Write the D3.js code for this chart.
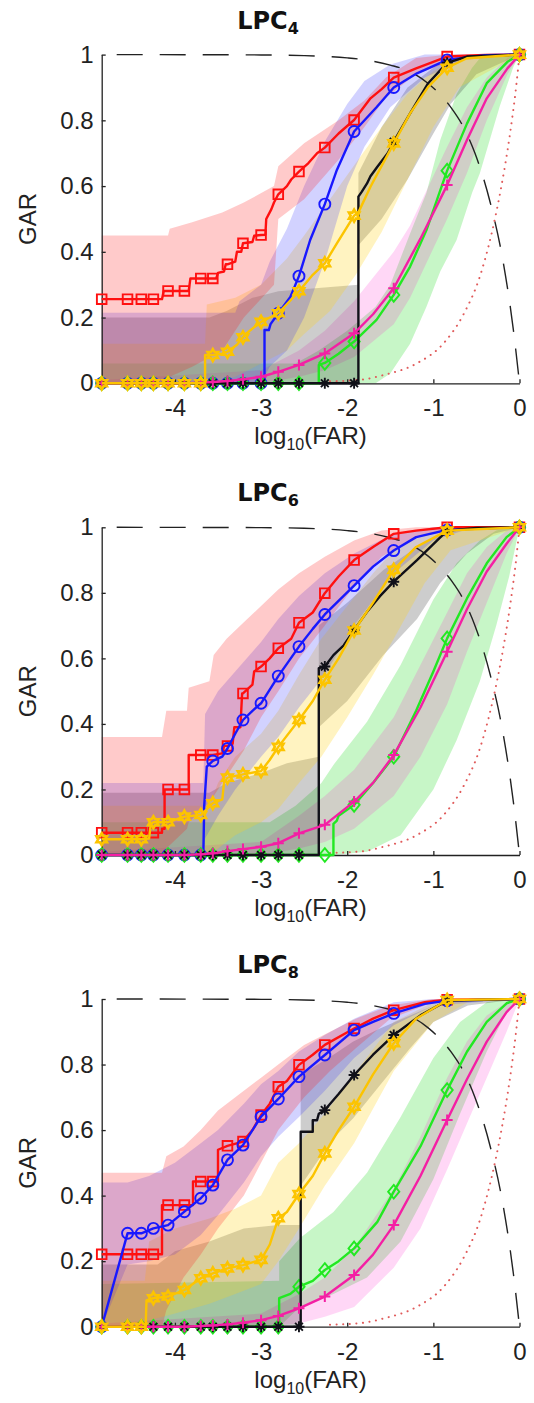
<!DOCTYPE html>
<html><head><meta charset="utf-8">
<script src="https://cdn.jsdelivr.net/npm/d3@7"></script>
<style>
html,body{margin:0;padding:0;background:#fff;}
svg{display:block;}
</style></head><body>
<svg id="chart" width="534" height="1403"></svg>
<script>
// ---------------- DATA ----------------
const xDomain = [-4.85, 0];
const yDomain = [0, 1];
const xTicks = [-4, -3, -2, -1, 0];
const xTickLabels = ["-4", "-3", "-2", "-1", "0"];
const yTicks = [0, 0.2, 0.4, 0.6, 0.8, 1];
const yTickLabels = ["0", "0.2", "0.4", "0.6", "0.8", "1"];
const titleMain = ["LPC", "LPC", "LPC"];
const titleSub = ["4", "6", "8"];
const xLabelMain = "log";
const xLabelSub = "10";
const xLabelTail = "(FAR)";
const yLabel = "GAR";

const seriesKeys = ["red", "blue", "yellow", "black", "green", "magenta"];
// marker positions (log10 FAR) shared by all curves
const markerX = [-4.85,-4.55,-4.39,-4.25,-4.08,-3.89,-3.70,-3.56,-3.39,-3.21,-3.0,-2.8,-2.56,-2.26,-1.92,-1.46,-0.84,0];

// reference curves
const refDashed = [[-4.85,1],[-3.0,0.999],[-2.5,0.997],[-2.0,0.99],[-1.77,0.983],[-1.5,0.968],[-1.27,0.948],[-1.06,0.912],[-0.79,0.837],[-0.65,0.779],[-0.52,0.702],[-0.34,0.55],[-0.19,0.37],[-0.07,0.16],[0,0]];
const refDotted = [[-2.2,0.006],[-1.81,0.012],[-1.58,0.025],[-1.19,0.061],[-0.88,0.122],[-0.65,0.21],[-0.46,0.325],[-0.32,0.46],[-0.21,0.6],[-0.11,0.76],[-0.04,0.9],[0,1]];

// ----- Panel 1 (LPC4) -----
const p1RedLine = [[-4.85,0.256],[-4.55,0.256],[-4.39,0.256],[-4.25,0.256],[-4.15,0.256],[-4.13,0.281],[-4.08,0.281],[-3.89,0.281],[-3.84,0.281],[-3.82,0.319],[-3.70,0.319],[-3.56,0.319],[-3.52,0.319],[-3.50,0.336],[-3.43,0.34],[-3.41,0.362],[-3.39,0.362],[-3.30,0.37],[-3.28,0.40],[-3.23,0.40],[-3.21,0.426],[-3.1,0.43],[-3.08,0.449],[-3.0,0.451],[-2.95,0.452],[-2.94,0.5],[-2.88,0.53],[-2.85,0.55],[-2.80,0.575],[-2.7,0.6],[-2.65,0.62],[-2.56,0.644],[-2.45,0.67],[-2.35,0.7],[-2.26,0.717],[-2.1,0.76],[-1.92,0.801],[-1.73,0.867],[-1.6,0.895],[-1.46,0.93],[-1.2,0.958],[-0.84,0.994],[-0.4,0.999],[0,1]];
const p1RedMarks = [0.256,0.256,0.256,0.256,0.281,0.281,0.319,0.319,0.362,0.426,0.451,0.575,0.644,0.717,0.801,0.93,0.994,1];
const p1BlueLine = [[-4.85,0],[-2.96,0],[-2.96,0.162],[-2.91,0.162],[-2.89,0.18],[-2.80,0.213],[-2.66,0.263],[-2.56,0.326],[-2.43,0.436],[-2.26,0.545],[-2.12,0.649],[-1.92,0.766],[-1.66,0.84],[-1.46,0.90],[-1.19,0.943],[-0.84,0.984],[-0.4,0.998],[0,1]];
const p1BlueMarks = [0,0,0,0,0,0,0,0,0,0,0,0.213,0.326,0.545,0.766,0.90,0.984,1];
const p1YellowLine = [[-4.85,0],[-3.65,0],[-3.65,0.086],[-3.56,0.086],[-3.45,0.09],[-3.39,0.096],[-3.28,0.117],[-3.21,0.14],[-3.17,0.152],[-3.0,0.187],[-2.8,0.213],[-2.56,0.28],[-2.4,0.33],[-2.26,0.365],[-2.12,0.426],[-1.92,0.51],[-1.87,0.52],[-1.73,0.598],[-1.46,0.73],[-1.27,0.821],[-1.06,0.902],[-0.84,0.96],[-0.61,0.989],[0,1]];
const p1YellowMarks = [0,0,0,0,0,0,0,0.086,0.096,0.14,0.187,0.213,0.28,0.365,0.51,0.73,0.96,1];
const p1BlackLine = [[-4.85,0],[-1.87,0],[-1.87,0.568],[-1.83,0.583],[-1.77,0.608],[-1.73,0.63],[-1.65,0.659],[-1.53,0.70],[-1.46,0.735],[-1.27,0.821],[-1.06,0.913],[-0.84,0.975],[-0.61,0.994],[0,1]];
const p1BlackMarks = [0,0,0,0,0,0,0,0,0,0,0,0,0,0,0,0.735,0.975,1];
const p1GreenLine = [[-4.85,0],[-2.33,0],[-2.33,0.056],[-2.26,0.062],[-2.1,0.09],[-1.92,0.127],[-1.66,0.193],[-1.46,0.269],[-1.27,0.355],[-1.08,0.466],[-0.84,0.647],[-0.61,0.79],[-0.38,0.913],[-0.14,0.978],[0,1]];
const p1GreenMarks = [0,0,0,0,0,0,0,0,0,0,0,0,0,0.062,0.127,0.269,0.647,1];
const p1MagentaLine = [[-4.85,0],[-3.89,0],[-3.70,0.002],[-3.56,0.004],[-3.39,0.007],[-3.21,0.012],[-3.0,0.02],[-2.8,0.035],[-2.56,0.056],[-2.26,0.091],[-1.92,0.152],[-1.7,0.21],[-1.46,0.289],[-1.15,0.44],[-0.84,0.603],[-0.61,0.74],[-0.38,0.867],[-0.14,0.958],[0,1]];
const p1MagentaMarks = [0,0,0,0,0,0,0.002,0.004,0.007,0.012,0.02,0.035,0.056,0.091,0.152,0.289,0.603,1];
// bands: [x, lower, upper]
const p1RedBand = [[-4.85,0,0.45],[-4.08,0,0.45],[-4.06,0.02,0.47],[-3.8,0.05,0.49],[-3.45,0.1,0.52],[-3.2,0.2,0.55],[-2.85,0.3,0.6],[-2.8,0.5,0.66],[-2.5,0.56,0.73],[-2.1,0.68,0.8],[-1.8,0.78,0.86],[-1.55,0.87,0.93],[-1.2,0.94,0.99],[-0.8,0.98,1],[0,1,1]];
const p1BlueBand = [[-4.85,0,0.215],[-3.3,0,0.215],[-3.25,0,0.25],[-3.0,0,0.3],[-2.9,0.05,0.37],[-2.7,0.1,0.47],[-2.5,0.2,0.6],[-2.25,0.38,0.74],[-2.0,0.6,0.85],[-1.8,0.72,0.92],[-1.5,0.84,0.97],[-1.1,0.93,1],[-0.6,0.99,1],[0,1,1]];
const p1YellowBand = [[-4.85,0,0.12],[-3.65,0,0.12],[-3.63,0,0.24],[-3.3,0.02,0.26],[-3.0,0.06,0.3],[-2.7,0.1,0.38],[-2.5,0.15,0.45],[-2.2,0.22,0.56],[-1.9,0.33,0.67],[-1.6,0.46,0.78],[-1.3,0.62,0.88],[-1.0,0.78,0.95],[-0.7,0.9,0.99],[0,1,1]];
const p1BlackBand = [[-4.85,0,0.2],[-3.6,0,0.2],[-3.4,0,0.22],[-3.1,0,0.26],[-2.8,0,0.28],[-1.87,0,0.3],[-1.87,0.42,0.64],[-1.6,0.5,0.78],[-1.3,0.62,0.9],[-1.0,0.76,0.96],[-0.8,0.85,0.99],[-0.5,0.94,1],[0,1,1]];
const p1GreenBand = [[-4.85,0,0.06],[-2.6,0,0.06],[-2.33,0,0.1],[-2.0,0,0.16],[-1.67,0,0.233],[-1.5,0.03,0.3],[-1.27,0.12,0.456],[-1.08,0.233,0.58],[-0.92,0.34,0.74],[-0.73,0.436,0.88],[-0.55,0.58,0.96],[-0.46,0.639,0.989],[-0.23,0.842,1],[-0.07,0.963,1],[0,1,1]];
const p1MagentaBand = [[-4.85,0,0.01],[-3.0,0,0.04],[-2.56,0.02,0.1],[-2.26,0.04,0.16],[-1.92,0.08,0.25],[-1.46,0.18,0.4],[-1.27,0.26,0.48],[-0.84,0.5,0.72],[-0.61,0.64,0.84],[-0.38,0.8,0.93],[-0.14,0.94,0.99],[0,1,1]];

// ----- Panel 2 (LPC6) -----
const p2RedLine = [[-4.85,0.068],[-4.55,0.068],[-4.39,0.068],[-4.25,0.068],[-4.15,0.068],[-4.15,0.08],[-4.12,0.08],[-4.12,0.2],[-4.08,0.2],[-3.89,0.2],[-3.84,0.2],[-3.84,0.305],[-3.70,0.305],[-3.56,0.305],[-3.45,0.31],[-3.43,0.333],[-3.39,0.333],[-3.33,0.34],[-3.31,0.39],[-3.24,0.39],[-3.22,0.493],[-3.21,0.493],[-3.1,0.52],[-3.08,0.56],[-3.0,0.575],[-2.9,0.6],[-2.8,0.631],[-2.65,0.66],[-2.56,0.709],[-2.4,0.74],[-2.26,0.799],[-2.1,0.85],[-1.92,0.90],[-1.7,0.94],[-1.46,0.98],[-1.2,0.99],[-0.84,1.0],[0,1.0]];
const p2RedMarks = [0.068,0.068,0.068,0.068,0.2,0.2,0.305,0.305,0.333,0.493,0.575,0.631,0.709,0.799,0.90,0.98,1.0,1.0];
const p2BlueLine = [[-4.85,0],[-3.67,0],[-3.66,0.15],[-3.63,0.27],[-3.56,0.287],[-3.45,0.30],[-3.39,0.325],[-3.3,0.37],[-3.21,0.412],[-3.1,0.44],[-3.0,0.463],[-2.8,0.546],[-2.56,0.636],[-2.4,0.69],[-2.26,0.734],[-1.92,0.822],[-1.7,0.88],[-1.46,0.929],[-1.2,0.97],[-0.84,0.992],[0,1]];
const p2BlueMarks = [0,0,0,0,0,0,0,0.287,0.325,0.412,0.463,0.546,0.636,0.734,0.822,0.929,0.992,1];
const p2YellowLine = [[-4.85,0.048],[-4.39,0.048],[-4.3,0.05],[-4.28,0.095],[-4.25,0.10],[-4.08,0.10],[-3.89,0.117],[-3.70,0.122],[-3.56,0.158],[-3.45,0.17],[-3.43,0.22],[-3.39,0.236],[-3.21,0.246],[-3.0,0.256],[-2.9,0.29],[-2.8,0.33],[-2.56,0.412],[-2.4,0.47],[-2.26,0.535],[-2.1,0.6],[-1.92,0.685],[-1.7,0.77],[-1.46,0.87],[-1.2,0.94],[-0.84,0.99],[0,1]];
const p2YellowMarks = [0.048,0.048,0.048,0.10,0.10,0.117,0.122,0.158,0.236,0.246,0.256,0.33,0.412,0.535,0.685,0.87,0.99,1];
const p2BlackLine = [[-4.85,0],[-2.33,0],[-2.33,0.57],[-2.26,0.575],[-2.16,0.61],[-2.04,0.64],[-1.92,0.687],[-1.77,0.742],[-1.62,0.79],[-1.46,0.834],[-1.19,0.90],[-0.84,0.99],[-0.5,0.998],[0,1]];
const p2BlackMarks = [0,0,0,0,0,0,0,0,0,0,0,0,0,0.575,0.687,0.834,0.99,1];
const p2GreenLine = [[-4.85,0],[-2.16,0],[-2.16,0.095],[-2.12,0.105],[-2.1,0.12],[-1.92,0.153],[-1.7,0.22],[-1.46,0.30],[-1.2,0.44],[-1.0,0.56],[-0.84,0.661],[-0.61,0.783],[-0.38,0.89],[-0.15,0.97],[0,1]];
const p2GreenMarks = [0,0,0,0,0,0,0,0,0,0,0,0,0,0,0.153,0.30,0.661,1];
const p2MagentaLine = [[-4.85,0],[-3.89,0],[-3.70,0.002],[-3.56,0.005],[-3.39,0.012],[-3.21,0.018],[-3.0,0.025],[-2.8,0.036],[-2.56,0.066],[-2.26,0.092],[-1.92,0.163],[-1.7,0.22],[-1.46,0.305],[-1.15,0.45],[-0.84,0.62],[-0.61,0.75],[-0.38,0.865],[-0.15,0.95],[0,1]];
const p2MagentaMarks = [0,0,0,0,0,0,0.002,0.005,0.012,0.018,0.025,0.036,0.066,0.092,0.163,0.305,0.62,1];
const p2RedBand = [[-4.85,0,0.36],[-4.15,0,0.36],[-4.1,0.02,0.44],[-3.86,0.08,0.44],[-3.84,0.1,0.51],[-3.6,0.16,0.53],[-3.55,0.18,0.61],[-3.4,0.24,0.66],[-3.2,0.32,0.71],[-3.0,0.42,0.76],[-2.8,0.5,0.81],[-2.56,0.6,0.86],[-2.26,0.7,0.91],[-1.92,0.82,0.96],[-1.6,0.91,0.99],[-1.2,0.97,1],[-0.8,0.99,1],[0,1,1]];
const p2BlueBand = [[-4.85,0,0.22],[-3.67,0,0.22],[-3.65,0.05,0.43],[-3.5,0.12,0.5],[-3.3,0.2,0.56],[-3.0,0.3,0.65],[-2.8,0.36,0.72],[-2.56,0.45,0.79],[-2.26,0.55,0.86],[-1.92,0.7,0.92],[-1.46,0.86,0.98],[-1.0,0.96,1],[-0.6,0.995,1],[0,1,1]];
const p2YellowBand = [[-4.85,0,0.15],[-3.6,0,0.15],[-3.5,0.02,0.22],[-3.3,0.06,0.3],[-3.0,0.1,0.37],[-2.8,0.14,0.44],[-2.56,0.22,0.55],[-2.3,0.3,0.66],[-2.0,0.42,0.76],[-1.7,0.55,0.86],[-1.46,0.66,0.93],[-1.1,0.83,0.98],[-0.8,0.93,1],[0,1,1]];
const p2BlackBand = [[-4.85,0,0.19],[-3.6,0,0.19],[-3.4,0,0.22],[-3.0,0,0.25],[-2.7,0,0.28],[-2.33,0,0.3],[-2.33,0.39,0.7],[-2.0,0.47,0.77],[-1.58,0.61,0.87],[-1.19,0.72,0.94],[-0.92,0.83,0.98],[-0.61,0.92,1],[-0.3,0.98,1],[0,1,1]];
const p2GreenBand = [[-4.85,0,0.1],[-2.9,0,0.1],[-2.6,0,0.15],[-2.3,0,0.22],[-2.16,0,0.275],[-1.77,0.01,0.407],[-1.38,0.06,0.58],[-1.0,0.2,0.78],[-0.73,0.35,0.89],[-0.46,0.53,0.96],[-0.27,0.7,0.99],[-0.12,0.85,1],[0,1,1]];
const p2MagentaBand = [[-4.85,0,0.01],[-3.0,0,0.04],[-2.56,0.02,0.12],[-2.26,0.04,0.18],[-1.92,0.08,0.26],[-1.46,0.18,0.42],[-1.15,0.3,0.58],[-0.84,0.46,0.74],[-0.61,0.62,0.86],[-0.38,0.77,0.94],[-0.15,0.92,0.99],[0,1,1]];

// ----- Panel 3 (LPC8) -----
const p3RedLine = [[-4.85,0.221],[-4.25,0.221],[-4.15,0.221],[-4.15,0.371],[-4.08,0.371],[-3.89,0.371],[-3.79,0.371],[-3.79,0.443],[-3.70,0.443],[-3.56,0.443],[-3.5,0.443],[-3.5,0.54],[-3.39,0.552],[-3.21,0.565],[-3.1,0.6],[-3.0,0.646],[-2.9,0.68],[-2.8,0.732],[-2.7,0.75],[-2.56,0.799],[-2.4,0.83],[-2.26,0.86],[-1.92,0.91],[-1.7,0.94],[-1.46,0.966],[-1.1,0.99],[-0.84,0.998],[0,1]];
const p3RedMarks = [0.221,0.221,0.221,0.221,0.371,0.371,0.443,0.443,0.552,0.565,0.646,0.732,0.799,0.86,0.91,0.966,0.998,1];
const p3BlueLine = [[-4.85,0],[-4.55,0.285],[-4.39,0.285],[-4.25,0.30],[-4.08,0.31],[-3.89,0.351],[-3.70,0.392],[-3.56,0.432],[-3.39,0.509],[-3.21,0.554],[-3.0,0.641],[-2.8,0.695],[-2.56,0.763],[-2.26,0.829],[-1.92,0.905],[-1.7,0.93],[-1.46,0.956],[-1.1,0.985],[-0.84,0.995],[0,1]];
const p3BlueMarks = [0,0.285,0.285,0.30,0.31,0.351,0.392,0.432,0.509,0.554,0.641,0.695,0.763,0.829,0.905,0.956,0.995,1];
const p3YellowLine = [[-4.85,0],[-4.34,0],[-4.33,0.08],[-4.25,0.087],[-4.08,0.092],[-3.89,0.112],[-3.70,0.148],[-3.56,0.163],[-3.39,0.178],[-3.21,0.188],[-3.0,0.204],[-2.9,0.25],[-2.8,0.331],[-2.7,0.35],[-2.56,0.405],[-2.4,0.46],[-2.26,0.529],[-2.1,0.6],[-1.92,0.671],[-1.7,0.77],[-1.46,0.865],[-1.2,0.94],[-0.84,0.997],[0,1]];
const p3YellowMarks = [0,0,0,0.087,0.092,0.112,0.148,0.163,0.178,0.188,0.204,0.331,0.405,0.529,0.671,0.865,0.997,1];
const p3BlackLine = [[-4.85,0],[-2.54,0],[-2.54,0.595],[-2.4,0.595],[-2.4,0.63],[-2.35,0.63],[-2.33,0.65],[-2.26,0.661],[-2.1,0.71],[-1.92,0.768],[-1.7,0.83],[-1.46,0.89],[-1.15,0.95],[-0.84,0.995],[0,1]];
const p3BlackMarks = [0,0,0,0,0,0,0,0,0,0,0,0,0,0.661,0.768,0.89,0.995,1];
const p3GreenLine = [[-4.85,0],[-2.79,0],[-2.79,0.087],[-2.66,0.1],[-2.56,0.122],[-2.4,0.14],[-2.26,0.173],[-2.1,0.2],[-1.92,0.239],[-1.65,0.32],[-1.46,0.412],[-1.15,0.55],[-0.84,0.722],[-0.61,0.839],[-0.38,0.93],[-0.15,0.987],[0,1]];
const p3GreenMarks = [0,0,0,0,0,0,0,0,0,0,0,0,0.122,0.173,0.239,0.412,0.722,1];
const p3MagentaLine = [[-4.85,0],[-3.89,0],[-3.70,0.002],[-3.56,0.004],[-3.39,0.007],[-3.21,0.012],[-3.0,0.02],[-2.8,0.033],[-2.56,0.056],[-2.26,0.092],[-1.92,0.158],[-1.7,0.22],[-1.46,0.31],[-1.15,0.46],[-0.84,0.631],[-0.61,0.755],[-0.38,0.87],[-0.15,0.96],[0,1]];
const p3MagentaMarks = [0,0,0,0,0,0,0.002,0.004,0.007,0.012,0.02,0.033,0.056,0.092,0.158,0.31,0.631,1];
const p3RedBand = [[-4.85,0,0.47],[-4.15,0,0.47],[-4.1,0.05,0.52],[-3.9,0.15,0.55],[-3.7,0.22,0.6],[-3.5,0.3,0.66],[-3.2,0.4,0.72],[-3.0,0.5,0.76],[-2.8,0.6,0.8],[-2.5,0.7,0.86],[-2.2,0.78,0.9],[-1.9,0.85,0.94],[-1.5,0.94,0.98],[-1.0,0.99,1],[0,1,1]];
const p3BlueBand = [[-4.85,0,0.44],[-4.55,0.19,0.44],[-4.3,0.2,0.46],[-4.0,0.22,0.5],[-3.7,0.28,0.56],[-3.5,0.34,0.6],[-3.2,0.44,0.68],[-3.0,0.52,0.74],[-2.8,0.58,0.78],[-2.56,0.64,0.84],[-2.26,0.72,0.89],[-1.92,0.82,0.94],[-1.46,0.92,0.99],[-1.0,0.98,1],[0,1,1]];
const p3YellowBand = [[-4.85,0,0.14],[-4.35,0,0.14],[-4.3,0.02,0.26],[-4.0,0.04,0.3],[-3.6,0.07,0.33],[-3.3,0.1,0.36],[-3.0,0.13,0.4],[-2.8,0.2,0.5],[-2.56,0.3,0.56],[-2.26,0.43,0.65],[-1.92,0.56,0.77],[-1.46,0.78,0.93],[-1.0,0.93,0.99],[-0.6,0.99,1],[0,1,1]];
const p3BlackBand = [[-4.85,0,0.19],[-4.2,0,0.19],[-4.0,0,0.23],[-3.6,0,0.26],[-3.2,0,0.3],[-2.8,0,0.31],[-2.54,0,0.31],[-2.54,0.43,0.768],[-2.16,0.575,0.83],[-1.93,0.636,0.87],[-1.62,0.737,0.91],[-1.27,0.85,0.95],[-1.0,0.93,0.98],[-0.6,0.98,1],[0,1,1]];
const p3GreenBand = [[-4.85,0,0.13],[-2.79,0,0.14],[-2.79,0,0.2],[-2.55,0.06,0.27],[-2.16,0.1,0.35],[-1.77,0.15,0.47],[-1.38,0.26,0.64],[-1.0,0.45,0.82],[-0.69,0.65,0.93],[-0.38,0.84,0.99],[-0.15,0.96,1],[0,1,1]];
const p3MagentaBand = [[-4.85,0,0.01],[-3.0,0,0.04],[-2.56,0.01,0.1],[-2.26,0.03,0.15],[-1.92,0.06,0.24],[-1.46,0.18,0.42],[-1.15,0.3,0.58],[-0.84,0.48,0.76],[-0.61,0.62,0.87],[-0.38,0.76,0.95],[-0.15,0.9,0.99],[0,1,1]];

// ---------------- assembled tables ----------------
const panels = [
  { lines: {red:p1RedLine, blue:p1BlueLine, yellow:p1YellowLine, black:p1BlackLine, green:p1GreenLine, magenta:p1MagentaLine},
    marks: {red:p1RedMarks, blue:p1BlueMarks, yellow:p1YellowMarks, black:p1BlackMarks, green:p1GreenMarks, magenta:p1MagentaMarks},
    bands: {red:p1RedBand, blue:p1BlueBand, yellow:p1YellowBand, black:p1BlackBand, green:p1GreenBand, magenta:p1MagentaBand} },
  { lines: {red:p2RedLine, blue:p2BlueLine, yellow:p2YellowLine, black:p2BlackLine, green:p2GreenLine, magenta:p2MagentaLine},
    marks: {red:p2RedMarks, blue:p2BlueMarks, yellow:p2YellowMarks, black:p2BlackMarks, green:p2GreenMarks, magenta:p2MagentaMarks},
    bands: {red:p2RedBand, blue:p2BlueBand, yellow:p2YellowBand, black:p2BlackBand, green:p2GreenBand, magenta:p2MagentaBand} },
  { lines: {red:p3RedLine, blue:p3BlueLine, yellow:p3YellowLine, black:p3BlackLine, green:p3GreenLine, magenta:p3MagentaLine},
    marks: {red:p3RedMarks, blue:p3BlueMarks, yellow:p3YellowMarks, black:p3BlackMarks, green:p3GreenMarks, magenta:p3MagentaMarks},
    bands: {red:p3RedBand, blue:p3BlueBand, yellow:p3YellowBand, black:p3BlackBand, green:p3GreenBand, magenta:p3MagentaBand} }
];

// ---------------- STYLE / LAYOUT ----------------
const W = 534, H = 1403;
const plotLeft = 101.7, plotRight = 519.5;
const plotTops = [54.6, 527.3, 999];
const plotBottoms = [383.3, 855, 1326.7];
const lineColor = {red:"#ff1010", blue:"#1818ff", yellow:"#fcc400", black:"#101018", green:"#22e822", magenta:"#f41fa4"};
const bandColor = {red:"#ff1a1a", blue:"#3030ff", yellow:"#ffd21a", black:"#303030", green:"#00d400", magenta:"#ff10c8"};
const bandOpacity = {red:0.23, blue:0.22, yellow:0.27, black:0.24, green:0.22, magenta:0.17};
const bandOrder = ["green","magenta","black","yellow","blue","red"];
const drawOrder = ["red","blue","green","black","magenta","yellow"];
const fontFam = "'Liberation Sans', Arial, Helvetica, sans-serif";

function hexagram(R) {
  const r = R / Math.sqrt(3);
  const pts = d3.range(12).map(i => {
    const a = -Math.PI/2 + i*Math.PI/6;
    const rr = i % 2 === 0 ? R : r;
    return [rr*Math.cos(a), rr*Math.sin(a)];
  });
  return "M" + pts.map(p => p[0].toFixed(2)+","+p[1].toFixed(2)).join("L") + "Z";
}
const markerPath = {
  red: "M-4.8,-4.8H4.8V4.8H-4.8Z",
  blue: d3.symbol(d3.symbolCircle, 95)(),
  yellow: hexagram(6),
  black: "M-5.5,0H5.5M0,-5.5V5.5M-3.9,-3.9L3.9,3.9M-3.9,3.9L3.9,-3.9",
  green: "M0,-6.8L5.6,0L0,6.8L-5.6,0Z",
  magenta: "M-5.5,0H5.5M0,-5.5V5.5"
};
const markerWidth = {red:1.9, blue:1.9, yellow:2.6, black:1.9, green:1.9, magenta:2};

const svg = d3.select("#chart");
svg.append("rect").attr("width", W).attr("height", H).attr("fill", "#fff");

panels.forEach((p, pi) => {
  const x = d3.scaleLinear().domain(xDomain).range([plotLeft, plotRight]);
  const y = d3.scaleLinear().domain(yDomain).range([plotBottoms[pi], plotTops[pi]]);
  const g = svg.append("g");

  // bands
  const area = d3.area().x(d => x(d[0])).y0(d => y(d[1])).y1(d => y(d[2]));
  bandOrder.forEach(k => {
    g.append("path").datum(p.bands[k]).attr("d", area)
      .attr("fill", bandColor[k]).attr("fill-opacity", bandOpacity[k]).attr("stroke", "none");
  });

  // axes
  const ax = g.append("g").attr("transform", `translate(0,${plotBottoms[pi]})`)
    .call(d3.axisBottom(x).tickValues(xTicks).tickFormat((d,i) => xTickLabels[i]).tickSizeInner(-4).tickSizeOuter(0).tickPadding(16));
  const ay = g.append("g").attr("transform", `translate(${plotLeft},0)`)
    .call(d3.axisLeft(y).tickValues(yTicks).tickFormat((d,i) => yTickLabels[i]).tickSizeInner(-4).tickSizeOuter(0).tickPadding(8));
  [ax, ay].forEach(a => {
    a.select(".domain").attr("stroke", "#222").attr("stroke-width", 1.3);
    a.selectAll(".tick line").attr("stroke", "#222").attr("stroke-width", 1.3);
    a.selectAll(".tick text").attr("font-family", fontFam).attr("font-size", 24).attr("fill", "#222");
  });

  // reference curves
  g.append("path").datum(refDashed).attr("d", d3.line().x(d => x(d[0])).y(d => y(d[1])).curve(d3.curveMonotoneX))
    .attr("fill", "none").attr("stroke", "#222").attr("stroke-width", 1.4)
    .attr("stroke-dasharray", "26,17").attr("stroke-dashoffset", 28);
  g.append("path").datum(refDotted).attr("d", d3.line().x(d => x(d[0])).y(d => y(d[1])).curve(d3.curveMonotoneX))
    .attr("fill", "none").attr("stroke", "#e05a5a").attr("stroke-width", 2)
    .attr("stroke-linecap", "round").attr("stroke-dasharray", "0.1,6.5");

  // series lines + markers
  const straight = d3.line().x(d => x(d[0])).y(d => y(d[1]));
  drawOrder.forEach(k => {
    g.append("path").datum(p.lines[k]).attr("d", straight)
      .attr("fill", "none").attr("stroke", lineColor[k]).attr("stroke-width", 2.4)
      .attr("stroke-linejoin", "round");
    g.append("g").selectAll("path").data(p.marks[k]).join("path")
      .attr("transform", (d,i) => `translate(${x(markerX[i])},${y(d)})`)
      .attr("d", markerPath[k]).attr("fill", "none")
      .attr("stroke", lineColor[k]).attr("stroke-width", markerWidth[k]);
  });

  // labels
  const t = svg.append("text").attr("x", 268).attr("y", plotTops[pi] - 26)
    .attr("text-anchor", "middle").attr("font-family", "'DejaVu Sans', sans-serif")
    .attr("font-weight", "bold").attr("font-size", 24).attr("fill", "#111");
  t.append("tspan").text(titleMain[pi]);
  t.append("tspan").attr("font-size", 16).attr("dy", 5).text(titleSub[pi]);

  const xl = svg.append("text").attr("x", (plotLeft + plotRight) / 2).attr("y", plotBottoms[pi] + 61)
    .attr("text-anchor", "middle").attr("font-family", fontFam).attr("font-size", 24).attr("fill", "#222");
  xl.append("tspan").text(xLabelMain);
  xl.append("tspan").attr("font-size", 16).attr("dy", 6).text(xLabelSub);
  xl.append("tspan").attr("dy", -6).text(xLabelTail);

  svg.append("text")
    .attr("transform", `translate(36,${(plotTops[pi] + plotBottoms[pi]) / 2}) rotate(-90)`)
    .attr("text-anchor", "middle").attr("font-family", fontFam).attr("font-size", 24).attr("fill", "#222")
    .text(yLabel);
});
</script>
</body></html>
